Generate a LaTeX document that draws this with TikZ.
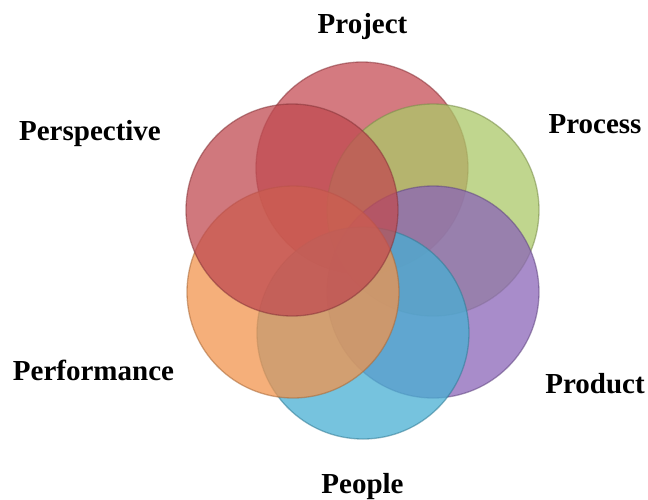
\documentclass[tikz,border=0pt]{standalone}
\usepackage{fontspec}
\setmainfont{Liberation Serif}
\begin{document}
\begin{tikzpicture}[x=1pt,y=-1pt,
  ring/.style={circle, minimum size=212pt, inner sep=0pt, fill=#1, fill opacity=0.75, draw=#1!70!black, draw opacity=0.55, line width=1.3pt},
  lab/.style={anchor=base, font=\fontsize{29}{34}\selectfont\bfseries, text=black}]
\definecolor{cproject}{RGB}{197,77,85}
\definecolor{cprocess}{RGB}{171,200,104}
\definecolor{cproduct}{RGB}{139,101,184}
\definecolor{cpeople}{RGB}{72,175,211}
\definecolor{cperformance}{RGB}{241,148,77}
\definecolor{cperspective}{RGB}{192,75,81}
\useasboundingbox (0,0) rectangle (648,499);
\node[ring=cproject] (project) at (362,168) {};
\node[ring=cprocess] (process) at (433,210) {};
\node[ring=cproduct] (product) at (433,292) {};
\node[ring=cpeople] (people) at (363,333) {};
\node[ring=cperformance] (performance) at (293,292) {};
\node[ring=cperspective] (perspective) at (292,210) {};
\node[lab] (tproject) at (362.5,33) {Project};
\node[lab] (tprocess) at (595,133) {Process};
\node[lab] (tproduct) at (595,393) {Product};
\node[lab] (tpeople) at (362.5,493) {People};
\node[lab] (tperformance) at (93.5,380) {Performance};
\node[lab] (tperspective) at (90,140) {Perspective};
\end{tikzpicture}
\end{document}
